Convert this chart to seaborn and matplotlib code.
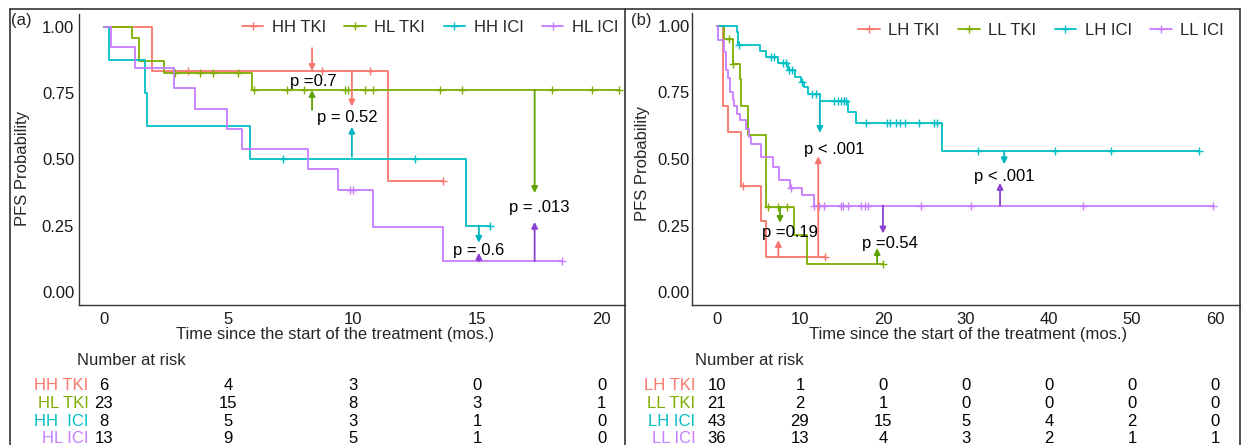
import numpy as np
import seaborn as sns
import matplotlib
matplotlib.use('Agg')
import matplotlib.pyplot as plt
from matplotlib.lines import Line2D

sns.set_theme(style='white')
plt.rcParams['font.family'] = ['Liberation Sans', 'DejaVu Sans']

W, H = 1241, 445
colors = ['#F8766D', '#7CAE00', '#00BFC4', '#C77CFF']
arrow_colors = {'r': '#F8766D', 'g': '#5DA000', 'c': '#00B5BD', 'p': '#8A40D0'}

# ---- panel (a) data ----
groups_a = ['HH TKI', 'HL TKI', 'HH ICI', 'HL ICI']
risk_labels_a = ['HH TKI', 'HL TKI', 'HH  ICI', 'HL ICI']

hh_tki_t = [0, 1.94, 11.42]
hh_tki_s = [1, 0.833, 0.417]
hh_tki_end = 13.63
hh_tki_cens = [3.37, 8.78, 10.68, 13.63]

hl_tki_t = [0, 1.11, 1.42, 2.41, 5.94]
hl_tki_s = [1, 0.957, 0.870, 0.826, 0.762]
hl_tki_end = 20.7
hl_tki_cens = [2.85, 3.86, 4.38, 5.38, 6.02, 7.35, 8.03, 9.68, 9.8, 10.5,
               10.8, 13.5, 14.4, 18.0, 19.6, 20.7]

hh_ici_t = [0, 0.21, 1.67, 1.75, 5.86, 14.56]
hh_ici_s = [1, 0.875, 0.75, 0.625, 0.5, 0.25]
hh_ici_end = 15.5
hh_ici_cens = [7.18, 12.49, 15.5]

hl_ici_t = [0, 0.28, 1.24, 2.83, 3.65, 4.93, 5.53, 8.2, 9.41, 10.8, 13.6]
hl_ici_s = [1, 0.923, 0.846, 0.769, 0.692, 0.615, 0.538, 0.462, 0.385, 0.245, 0.115]
hl_ici_end = 18.38
hl_ici_cens = [9.9, 10.0, 18.38]

risk_times_a = [0, 5, 10, 15, 20]
risk_a = [[6, 4, 3, 0, 0], [23, 15, 8, 3, 1], [8, 5, 3, 1, 0], [13, 9, 5, 1, 0]]

# p-value labels and arrows (x, from, to, colour)
pvals_a = [('p =0.7', 8.4, 0.794), ('p = 0.52', 9.76, 0.66),
           ('p = .013', 17.47, 0.32), ('p = 0.6', 15.06, 0.155)]
arrows_a = [(8.36, 0.92, 0.834, 'r'), (8.36, 0.687, 0.762, 'g'),
            (9.96, 0.833, 0.70, 'r'), (9.96, 0.51, 0.623, 'c'),
            (17.3, 0.762, 0.373, 'g'), (17.3, 0.115, 0.264, 'p'),
            (15.06, 0.25, 0.185, 'c'), (15.06, 0.115, 0.147, 'p')]

# ---- panel (b) data ----
groups_b = ['LH TKI', 'LL TKI', 'LH ICI', 'LL ICI']
risk_labels_b = ['LH TKI', 'LL TKI', 'LH ICI', 'LL ICI']

lh_tki_t = [0, 0.72, 1.3, 2.85, 5.25, 5.95]
lh_tki_s = [1, 0.70, 0.60, 0.40, 0.267, 0.133]
lh_tki_end = 13.0
lh_tki_cens = [3.2, 13.0]

ll_tki_t = [0, 0.8, 1.9, 2.8, 2.9, 3.7, 5.9, 9.3, 10.85]
ll_tki_s = [1, 0.952, 0.857, 0.80, 0.70, 0.59, 0.32, 0.214, 0.107]
ll_tki_end = 20.0
ll_tki_cens = [1.5, 1.95, 6.1, 7.4, 8.4, 20.0]

lh_ici_t = [0, 2.4, 2.5, 5.2, 5.9, 7.4, 8.6, 9.4, 10.1, 10.5, 11.0, 12.4,
            15.8, 16.75, 27.1]
lh_ici_s = [1, 0.977, 0.93, 0.907, 0.884, 0.86, 0.835, 0.81, 0.79, 0.77,
            0.745, 0.718, 0.677, 0.637, 0.53]
lh_ici_end = 58.1
lh_ici_cens = [2.7, 6.5, 6.9, 7.9, 8.3, 8.7, 9.1, 10.3, 11.5, 11.9, 14.1,
               14.6, 14.9, 15.3, 15.6, 18.0, 20.5, 20.9, 21.6, 22.1, 22.6,
               24.3, 26.1, 26.5, 31.4, 40.7, 47.5, 58.1]

ll_ici_t = [0, 0.16, 0.8, 1.08, 1.36, 1.6, 1.89, 2.09, 2.41, 2.8, 3.5, 3.9,
            4.1, 5.3, 6.7, 7.5, 8.8, 10.3, 11.7]
ll_ici_s = [1, 0.947, 0.903, 0.835, 0.803, 0.753, 0.722, 0.699, 0.669, 0.647,
            0.612, 0.582, 0.556, 0.509, 0.471, 0.421, 0.39, 0.365, 0.325]
ll_ici_end = 59.8
ll_ici_cens = [8.9, 11.7, 12.3, 12.9, 14.9, 15.2, 15.8, 17.3, 17.8, 18.2,
               24.6, 30.6, 44.1, 59.8]

risk_times_b = [0, 10, 20, 30, 40, 50, 60]
risk_b = [[10, 1, 0, 0, 0, 0, 0], [21, 2, 1, 0, 0, 0, 0],
          [43, 29, 15, 5, 4, 2, 0], [36, 13, 4, 3, 2, 1, 1]]

pvals_b = [('p < .001', 14.1, 0.534), ('p =0.19', 8.8, 0.222),
           ('p =0.54', 20.8, 0.184), ('p < .001', 34.6, 0.436)]
arrows_b = [(12.2, 0.135, 0.51, 'r'), (12.4, 0.718, 0.598, 'c'),
            (7.4, 0.135, 0.195, 'r'), (7.6, 0.32, 0.26, 'g'),
            (19.3, 0.107, 0.165, 'g'), (20.0, 0.325, 0.22, 'p'),
            (34.6, 0.53, 0.48, 'c'), (34.1, 0.325, 0.41, 'p')]

curves_a = [(hh_tki_t, hh_tki_s, hh_tki_end, hh_tki_cens),
            (hl_tki_t, hl_tki_s, hl_tki_end, hl_tki_cens),
            (hh_ici_t, hh_ici_s, hh_ici_end, hh_ici_cens),
            (hl_ici_t, hl_ici_s, hl_ici_end, hl_ici_cens)]
curves_b = [(lh_tki_t, lh_tki_s, lh_tki_end, lh_tki_cens),
            (ll_tki_t, ll_tki_s, ll_tki_end, ll_tki_cens),
            (lh_ici_t, lh_ici_s, lh_ici_end, lh_ici_cens),
            (ll_ici_t, ll_ici_s, ll_ici_end, ll_ici_cens)]


def box(l, t, r, b):
    return [l / W, 1 - b / H, (r - l) / W, (b - t) / H]


def draw_km(ax, curves, names, pvals, arrows, xlim, xticks, leg_anchor):
    for (t, s, end, cens), c, nm in zip(curves, colors, names):
        tx = list(t) + [end]
        sy = list(s) + [s[-1]]
        sns.lineplot(x=tx, y=sy, ax=ax, color=c, drawstyle='steps-post',
                     estimator=None, sort=False, lw=1.3)
        idx = np.searchsorted(t, cens, side='right') - 1
        cy = np.array(s)[idx]
        ax.plot(cens, cy, linestyle='none', marker='+', color=c, ms=6, mew=1.0)
    for x, y0, y1, k in arrows:
        ax.annotate('', xy=(x, y1), xytext=(x, y0),
                    arrowprops=dict(arrowstyle='-|>', color=arrow_colors[k],
                                    lw=1.3, mutation_scale=9,
                                    shrinkA=0, shrinkB=0))
    for txt, x, y in pvals:
        ax.text(x, y, txt, ha='center', va='center', fontsize=12, color='black')
    ax.set_xlim(*xlim)
    ax.set_ylim(-0.05, 1.05)
    ax.set_xticks(xticks)
    ax.set_yticks([0, 0.25, 0.5, 0.75, 1.0])
    ax.set_yticklabels(['0.00', '0.25', '0.50', '0.75', '1.00'])
    for sp in ['top', 'right']:
        ax.spines[sp].set_visible(False)
    for sp in ['left', 'bottom']:
        ax.spines[sp].set_color('#333333')
        ax.spines[sp].set_linewidth(1.0)
    ax.tick_params(axis='both', which='both', direction='out', length=3,
                   width=0.8, color='#333333', labelsize=12, labelcolor='#1a1a1a')
    ax.tick_params(axis='x', pad=2)
    ax.set_xlabel('')
    ax.set_ylabel('')
    handles = [Line2D([0], [0], color=c, lw=1.3, marker='+', ms=6, mew=1.0)
               for c in colors]
    ax.legend(handles, names, loc='center', bbox_to_anchor=leg_anchor, ncol=4,
              frameon=False, fontsize=12, handlelength=1.3, handletextpad=0.5,
              columnspacing=1.1, borderaxespad=0)


def draw_risk(ax, xlim, times, table, labels, lab_x, nar_x):
    ax.set_xlim(*xlim)
    ax.set_ylim(3.34, -2.03)
    ax.axis('off')
    ax.text(nar_x, -1.41, 'Number at risk', ha='left', va='center', fontsize=12)
    for i, (row, lab, c) in enumerate(zip(table, labels, colors)):
        ax.text(lab_x, i, lab, ha='right', va='center', fontsize=12, color=c)
        for tt, n in zip(times, row):
            ax.text(tt, i, str(n), ha='center', va='center', fontsize=12,
                    color='black')


fig = plt.figure(figsize=(W / 100, H / 100), dpi=100)

ax_a = fig.add_axes(box(79, 13.75, 625, 305))
draw_km(ax_a, curves_a, groups_a, pvals_a, arrows_a, (-1.0, 20.93),
        [0, 5, 10, 15, 20], (0.643, 0.954))
ax_a.tick_params(axis='y', pad=0.5)

ax_b = fig.add_axes(box(692, 12.7, 1240, 305.3))
draw_km(ax_b, curves_b, groups_b, pvals_b, arrows_b, (-3, 63),
        [0, 10, 20, 30, 40, 50, 60], (0.637, 0.94))
ax_b.tick_params(axis='y', pad=-1.5)

ta = fig.add_axes(box(79, 350, 625, 445))
draw_risk(ta, (-1.0, 20.93), risk_times_a, risk_a, risk_labels_a, -0.62, -1.08)
tb = fig.add_axes(box(692, 350, 1240, 445))
draw_risk(tb, (-3, 63), risk_times_b, risk_b, risk_labels_b, -2.6, -2.6)

# axis titles and panel tags
fig.text(335 / W, 1 - 334 / H, 'Time since the start of the treatment (mos.)',
         ha='center', va='center', fontsize=12)
fig.text(968 / W, 1 - 334 / H, 'Time since the start of the treatment (mos.)',
         ha='center', va='center', fontsize=12)
fig.text(23 / W, 1 - 168 / H, 'PFS Probability', rotation=90, ha='center',
         va='center', fontsize=12)
fig.text(643 / W, 1 - 163 / H, 'PFS Probability', rotation=90, ha='center',
         va='center', fontsize=12)
fig.text(11 / W, 1 - 20 / H, '(a)', ha='left', va='center', fontsize=12)
fig.text(631 / W, 1 - 20 / H, '(b)', ha='left', va='center', fontsize=12)

# panel frames
frame_kw = dict(color='#333333', lw=1.2, transform=fig.transFigure)
fig.add_artist(Line2D([9.5 / W, 1239.5 / W], [1 - 8.5 / H, 1 - 8.5 / H], **frame_kw))
for xp in [9.5, 625, 1239.5]:
    fig.add_artist(Line2D([xp / W, xp / W], [0, 1 - 8.5 / H], **frame_kw))

fig.savefig('out.png', dpi=100)
